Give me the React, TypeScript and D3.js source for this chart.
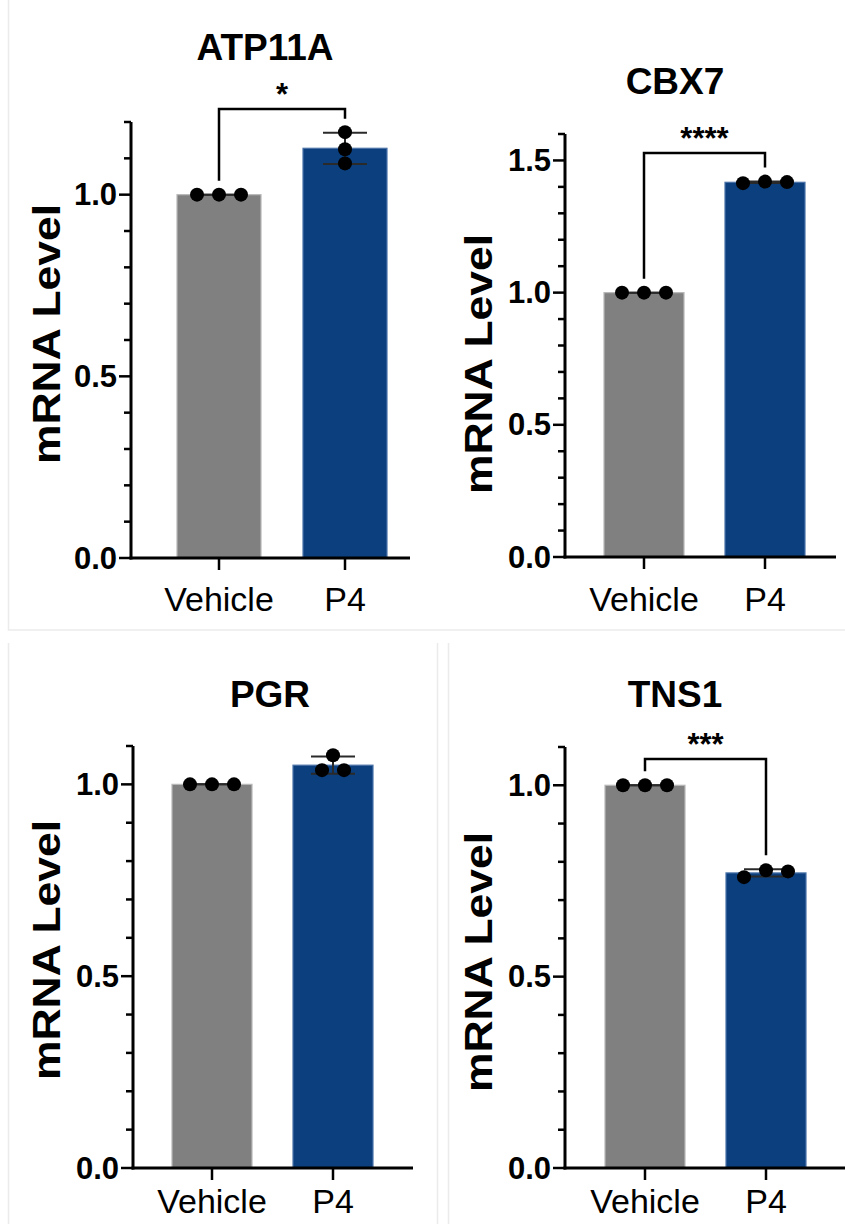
import React from "react";
import * as d3 from "d3";

// Treatment groups on the x axis
const groups = ["Vehicle", "P4"];

// Gene panels (top-left, top-right, bottom-left, bottom-right)
const genes = ["ATP11A", "CBX7", "PGR", "TNS1"];

// Relative mRNA levels, three replicates per group
const atp11aVehicle = [1.0, 1.0, 1.0];
const atp11aP4 = [1.172, 1.125, 1.086];
const cbx7Vehicle = [1.0, 1.0, 1.0];
const cbx7P4 = [1.414, 1.42, 1.418];
const pgrVehicle = [1.0, 1.0, 1.0];
const pgrP4 = [1.037, 1.076, 1.037];
const tns1Vehicle = [1.0, 1.0, 1.0];
const tns1P4 = [0.76, 0.778, 0.775];

// Axis maxima and major tick labels per panel
const yMaxes = [1.2, 1.6, 1.1, 1.1];
const majorTicks = [
  ["0.0", "0.5", "1.0"],
  ["0.0", "0.5", "1.0", "1.5"],
  ["0.0", "0.5", "1.0"],
  ["0.0", "0.5", "1.0"],
];

// Significance marks (Vehicle vs P4)
const significance = ["*", "****", "", "***"];

const replicates = [
  [atp11aVehicle, atp11aP4],
  [cbx7Vehicle, cbx7P4],
  [pgrVehicle, pgrP4],
  [tns1Vehicle, tns1P4],
];

const GRAY = "#808080";
const BLUE = "#0b3f7e";
const FONT = "'Liberation Sans', Arial, Helvetica, sans-serif";

// Frame geometry for each panel
const frames = [
  { axisX: 131, y0: 558, yTop: 122, c0: 219, c1: 345, barW: 84, xEnd: 410, titleX: 265, titleY: 60, labelX: 47, labelY: 334, bracketY: 109, catY: 53, spread: [[-1, 0, 1], [0, 0, 0]] },
  { axisX: 565, y0: 557, yTop: 134, c0: 644, c1: 765, barW: 80, xEnd: 836, titleX: 675, titleY: 94, labelX: 479, labelY: 364, bracketY: 153, catY: 54, spread: [[-1, 0, 1], [-1, 0, 1]] },
  { axisX: 133, y0: 1168, yTop: 746, c0: 212, c1: 333, barW: 80, xEnd: 413, titleX: 270, titleY: 707, labelX: 47, labelY: 950, bracketY: 0, catY: 45, spread: [[-1, 0, 1], [-0.5, 0, 0.5]] },
  { axisX: 565, y0: 1168, yTop: 747, c0: 645, c1: 766, barW: 80, xEnd: 845, titleX: 675, titleY: 707, labelX: 479, labelY: 962, bracketY: 759, catY: 45, spread: [[-1, 0, 1], [-1, 0, 1]] },
];

function Panel({ idx }: { idx: number }) {
  const f = frames[idx];
  const yMax = yMaxes[idx];
  const y = d3.scaleLinear().domain([0, yMax]).range([f.y0, f.yTop]);
  const x = d3.scalePoint<string>().domain(groups).range([f.c0, f.c1]);
  const minor = d3.range(0, Math.round(yMax * 10) + 1).map((i) => i / 10);
  const data = replicates[idx];
  const sig = significance[idx];
  const ptGap = 22;

  const stats = data.map((vals) => ({
    mean: d3.mean(vals) as number,
    sd: (d3.deviation(vals) as number) || 0,
  }));

  return (
    <g>
      {/* title */}
      <text x={f.titleX} y={f.titleY} textAnchor="middle" fontFamily={FONT} fontWeight="bold" fontSize={37}>
        {genes[idx]}
      </text>
      {/* y label */}
      <text
        transform={`translate(${f.labelX},${f.labelY}) rotate(-90)`}
        textAnchor="middle"
        dominantBaseline="central"
        fontFamily={FONT}
        fontWeight="bold"
        fontSize={38}
        textLength={260}
        lengthAdjust="spacingAndGlyphs"
      >
        mRNA Level
      </text>

      {/* bars */}
      {groups.map((g, i) => (
        <rect
          key={g}
          x={(x(g) as number) - f.barW / 2}
          y={y(stats[i].mean)}
          width={f.barW}
          height={f.y0 - y(stats[i].mean)}
          fill={i === 0 ? GRAY : BLUE}
          stroke={i === 0 ? "#b8b8b8" : "#4a72a8"}
          strokeWidth={1.2}
        />
      ))}

      {/* error bars: mean ± SD */}
      {groups.map((g, i) => {
        const cx = x(g) as number;
        const lo = y(stats[i].mean - stats[i].sd);
        const hi = y(stats[i].mean + stats[i].sd);
        return (
          <g key={g} stroke="#2a2a2a" strokeWidth={2}>
            <line x1={cx} x2={cx} y1={lo} y2={hi} />
            <line x1={cx - 22} x2={cx + 22} y1={lo} y2={lo} />
            <line x1={cx - 22} x2={cx + 22} y1={hi} y2={hi} />
          </g>
        );
      })}

      {/* replicate points */}
      {groups.map((g, i) =>
        data[i].map((v, k) => (
          <circle key={`${g}-${k}`} cx={(x(g) as number) + f.spread[i][k] * ptGap} cy={y(v)} r={7} fill="#000" />
        ))
      )}

      {/* y axis */}
      <line x1={f.axisX} x2={f.axisX} y1={f.yTop} y2={f.y0 + 1.5} stroke="#000" strokeWidth={3} />
      {minor.map((t) => {
        const major = Math.abs(t * 2 - Math.round(t * 2)) < 1e-9;
        return (
          <line key={t} x1={f.axisX - (major ? 12 : 7)} x2={f.axisX} y1={y(t)} y2={y(t)} stroke="#000" strokeWidth={2.5} />
        );
      })}
      {majorTicks[idx].map((t) => (
        <text
          key={t}
          x={f.axisX - 14}
          y={y(+t)}
          textAnchor="end"
          dominantBaseline="central"
          fontFamily={FONT}
          fontWeight="bold"
          fontSize={31}
        >
          {t}
        </text>
      ))}

      {/* x axis */}
      <line x1={f.axisX - 1.5} x2={f.xEnd} y1={f.y0} y2={f.y0} stroke="#000" strokeWidth={3} />
      {groups.map((g) => (
        <g key={g}>
          <line x1={x(g)} x2={x(g)} y1={f.y0} y2={f.y0 + 12} stroke="#000" strokeWidth={2.5} />
          <text x={x(g)} y={f.y0 + f.catY} textAnchor="middle" fontFamily={FONT} fontSize={34}>
            {g}
          </text>
        </g>
      ))}

      {/* significance bracket */}
      {sig && (
        <g>
          <path
            d={`M${x("Vehicle")},${y(d3.max(data[0]) as number) - 14} V${f.bracketY} H${x("P4")} V${
              y(stats[1].mean + stats[1].sd) - 14
            }`}
            fill="none"
            stroke="#000"
            strokeWidth={2.5}
          />
          <text
            x={((x("Vehicle") as number) + (x("P4") as number)) / 2}
            y={f.bracketY - 4}
            textAnchor="middle"
            fontFamily={FONT}
            fontWeight="bold"
            fontSize={31}
          >
            {sig}
          </text>
        </g>
      )}
    </g>
  );
}

export default function App() {
  return (
    <svg
      width={845}
      height={1224}
      viewBox="0 0 845 1224"
      style={{ position: "absolute", left: 0, top: 0, display: "block", background: "#fff" }}
    >
      <rect width={845} height={1224} fill="#fff" />
      {/* faint panel separators */}
      <g stroke="#ebebeb" strokeWidth={1.5} fill="none">
        <path d="M8.5,0 V630 H845" />
        <line x1={8.5} x2={8.5} y1={643} y2={1224} />
        <line x1={437.5} x2={437.5} y1={643} y2={1224} />
        <line x1={448.5} x2={448.5} y1={643} y2={1224} />
      </g>
      {genes.map((g, i) => (
        <Panel key={g} idx={i} />
      ))}
    </svg>
  );
}
